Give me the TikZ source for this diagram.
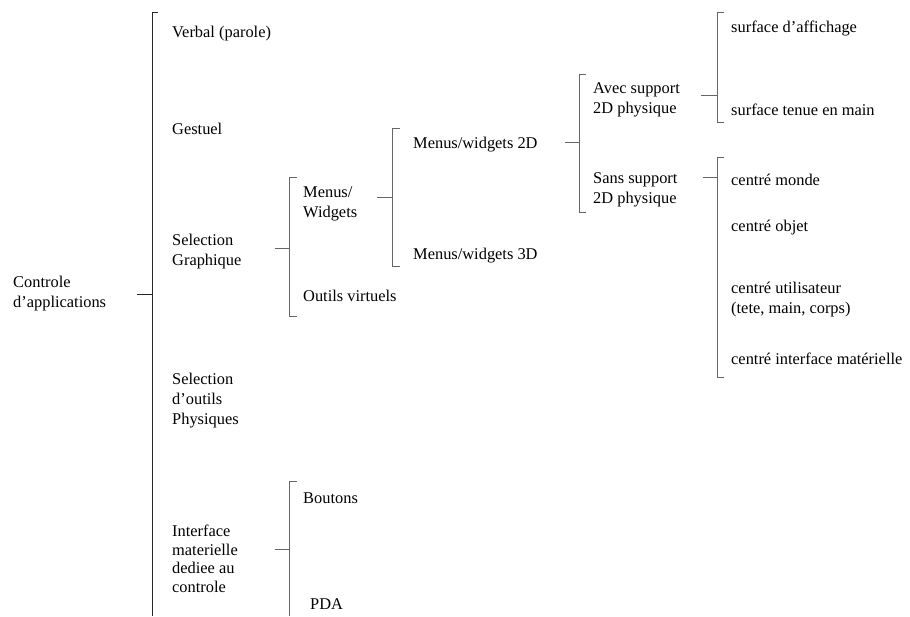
\documentclass[tikz,border=0pt]{standalone}
\usepackage{fontspec}
\setmainfont{Liberation Serif}
\begin{document}
\begin{tikzpicture}[x=1pt, y=-1pt,
        txt/.style={anchor=west, align=left, inner sep=0pt, font=\fontsize{16.4}{20}\selectfont},
        brace/.style={line width=0.9pt, black!60},
        mainbrace/.style={line width=0.9pt, black!85}]
    \useasboundingbox (0,0) rectangle (910,616);

    % root and first level
    \node[txt] (ctrl) at (13,294) {Controle\\d'applications};
    \node[txt] (verbal) at (172,34) {Verbal (parole)};
    \node[txt] (gest) at (172,129) {Gestuel};
    \node[txt] (selg) at (172,252) {Selection\\Graphique};
    \node[txt] (selp) at (172,401) {Selection\\d'outils\\Physiques};
    \node[txt, font=\fontsize{16.4}{18.5}\selectfont] (inter) at (172,559) {Interface\\materielle\\dediee au\\controle};

    % selection graphique
    \node[txt] (menus) at (303,204) {Menus/\\Widgets};
    \node[txt] (outils) at (303,296) {Outils virtuels};
    \node[txt] (m2d) at (413,145) {Menus/widgets 2D};
    \node[txt] (m3d) at (413,256) {Menus/widgets 3D};
    \node[txt] (avec) at (593,100) {Avec support\\2D physique};
    \node[txt] (sans) at (593,190) {Sans support\\2D physique};
    \node[txt] (aff) at (731,28) {surface d'affichage};
    \node[txt] (tenue) at (731,110) {surface tenue en main};
    \node[txt] (monde) at (731,180) {centré monde};
    \node[txt] (objet) at (731,228) {centré objet};
    \node[txt] (util) at (731,300) {centré utilisateur\\(tete, main, corps)};
    \node[txt] (mat) at (731,359) {centré interface matérielle};

    % interface materielle
    \node[txt] (bout) at (303,498) {Boutons};
    \node[txt] (pda) at (310,604) {PDA};

    % brackets
    \coordinate (ctrlT) at (152,12);  \coordinate (ctrlB) at (152,616); \coordinate (ctrlIn) at (152,294);
    \coordinate (selgT) at (289,177); \coordinate (selgB) at (289,316); \coordinate (selgIn) at (289,248);
    \coordinate (menusT) at (392,128); \coordinate (menusB) at (392,266); \coordinate (menusIn) at (392,197);
    \coordinate (m2dT) at (579,74);   \coordinate (m2dB) at (579,212);  \coordinate (m2dIn) at (579,142);
    \coordinate (avecT) at (717,12);  \coordinate (avecB) at (717,122); \coordinate (avecIn) at (717,95);
    \coordinate (sansT) at (717,157); \coordinate (sansB) at (717,377); \coordinate (sansIn) at (717,177);
    \coordinate (interT) at (289,481); \coordinate (interB) at (289,616); \coordinate (interIn) at (289,549);

    \draw[mainbrace] ([xshift=6pt]ctrlT) -- (ctrlT) -- (ctrlB);
    \draw[mainbrace] (ctrl.east |- ctrlIn) ++(31,0) -- (ctrlIn);
    \draw[brace] ([xshift=8pt]selgT) -- (selgT) -- (selgB) -- ++(8,0);
    \draw[brace] (selg.east |- selgIn) ++(33,0) -- (selgIn);
    \draw[brace] ([xshift=8pt]menusT) -- (menusT) -- (menusB) -- ++(8,0);
    \draw[brace] (menus.east |- menusIn) ++(20,0) -- (menusIn);
    \draw[brace] ([xshift=7pt]m2dT) -- (m2dT) -- (m2dB) -- ++(7,0);
    \draw[brace] (m2d.east |- m2dIn) ++(27,0) -- (m2dIn);
    \draw[brace] ([xshift=7pt]avecT) -- (avecT) -- (avecB) -- ++(7,0);
    \draw[brace] (avec.east |- avecIn) ++(21,0) -- (avecIn);
    \draw[brace] ([xshift=7pt]sansT) -- (sansT) -- (sansB) -- ++(7,0);
    \draw[brace] (sans.east |- sansIn) ++(25,0) -- (sansIn);
    \draw[brace] ([xshift=8pt]interT) -- (interT) -- (interB);
    \draw[brace] (inter.east |- interIn) ++(37,0) -- (interIn);
\end{tikzpicture}
\end{document}
